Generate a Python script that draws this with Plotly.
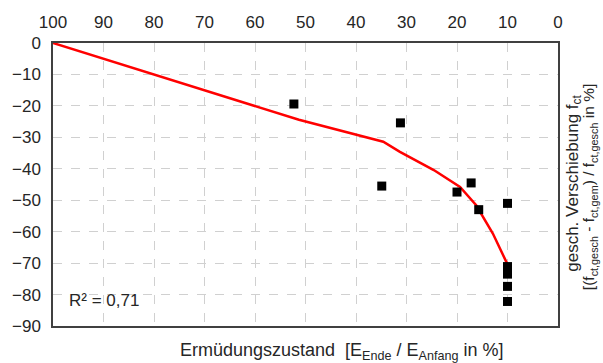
import plotly.graph_objects as go

# Measured points: fatigue state (E_Ende/E_Anfang in %) vs. shift (%)
pts_x = [52.3, 31.2, 34.9, 20.0, 17.2, 15.7, 10.0, 10.0, 10.0, 10.0, 10.0]
pts_y = [-19.4, -25.4, -45.5, -47.4, -44.5, -53.0, -51.0, -71.1, -73.5, -77.4, -82.2]

# Trend line
trend_x = [100, 51.3, 34.6, 31.3, 24.6, 19.4, 16.2, 12.9, 10.0]
trend_y = [0, -24.4, -31.4, -34.6, -40.4, -45.8, -51.6, -60.6, -70.4]

x_ticks = list(range(0, 101, 10))
y_ticks = list(range(-90, 1, 10))

FONT = "Liberation Sans, Arial, sans-serif"
TXT = "#262626"

fig = go.Figure()
fig.add_trace(go.Scatter(x=trend_x, y=trend_y, mode="lines",
                         line=dict(color="#ff0000", width=2.5), hoverinfo="skip"))
fig.add_trace(go.Scatter(x=pts_x, y=pts_y, mode="markers",
                         marker=dict(symbol="square", size=9, color="#000000")))

axis_common = dict(showgrid=True, gridcolor="#d0d0d0", griddash="dash", gridwidth=1,
                   showline=True, linecolor="#404040", linewidth=1.5, mirror=True,
                   zeroline=False, ticks="", tickfont=dict(family=FONT, size=17, color=TXT))

fig.update_layout(
    width=603, height=363,
    margin=dict(l=51, r=45, t=43, b=37),
    paper_bgcolor="white", plot_bgcolor="white",
    showlegend=False,
    xaxis=dict(range=[100, 0], side="top", tickvals=x_ticks, ticklabelstandoff=6, **axis_common),
    yaxis=dict(range=[-90, 0], tickvals=y_ticks, ticklabelstandoff=7, **axis_common),
    annotations=[
        dict(text="Ermüdungszustand  [E<sub>Ende</sub> / E<sub>Anfang</sub> in %]",
             xref="paper", yref="paper", x=0.572, y=-0.09, showarrow=False,
             xanchor="center", yanchor="middle",
             font=dict(family=FONT, size=18, color=TXT)),
        dict(text="gesch. Verschiebung f<sub>ct</sub>",
             xref="paper", yref="paper", x=1.031, y=0.505, showarrow=False,
             xanchor="center", yanchor="middle", textangle=-90,
             font=dict(family=FONT, size=17, color=TXT)),
        dict(text="[(f<sub>ct,gesch</sub> - f<sub>ct,gem</sub>) / f<sub>ct,gesch</sub> in %]",
             xref="paper", yref="paper", x=1.063, y=0.49, showarrow=False,
             xanchor="center", yanchor="middle", textangle=-90,
             font=dict(family=FONT, size=15.5, color=TXT)),
        dict(text="R² = 0,71", xref="paper", yref="paper", x=0.1, y=0.09,
             showarrow=False, xanchor="center", yanchor="middle",
             font=dict(family=FONT, size=17, color=TXT)),
    ],
)

fig.write_html("out.html", config={"displayModeBar": False},
               post_script="document.body.style.margin='0';document.body.style.overflow='hidden';")
